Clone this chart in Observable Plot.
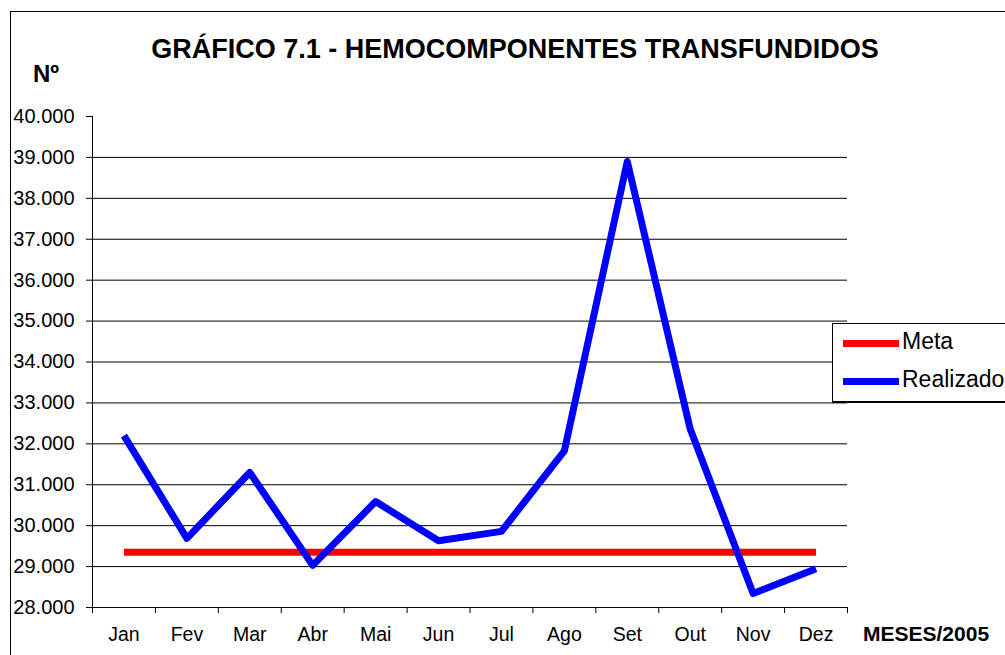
<!DOCTYPE html>
<html><head><meta charset="utf-8">
<script src="https://cdn.jsdelivr.net/npm/d3@7"></script>
<script src="https://cdn.jsdelivr.net/npm/@observablehq/plot@0.6"></script>
<style>
body{margin:0;background:#fff;font-family:"Liberation Sans",Arial,sans-serif;color:#000;}
#wrap{position:relative;width:1005px;height:655px;overflow:hidden;background:#fff;}
#wrap svg{position:absolute;left:0;top:0;}
.border{position:absolute;left:10px;top:11px;width:1100px;height:800px;border:1px solid #000;box-sizing:border-box;}
.t{position:absolute;white-space:nowrap;line-height:1;font-weight:bold;}
#title{left:515px;top:36px;font-size:27px;transform:translateX(-50%);}
#ylab{left:33px;top:62px;font-size:24px;}
#xlab{left:863px;top:623px;font-size:21px;}
#legend{position:absolute;left:832px;top:323px;width:200px;height:80px;border:1px solid #000;border-bottom-width:2px;box-sizing:border-box;background:#fff;}
.li{position:absolute;left:10px;height:30px;}
.sw{position:absolute;left:0;width:56px;height:7px;top:12px;}
.lt{position:absolute;left:59px;top:2px;font-size:23px;line-height:1;white-space:nowrap;}
</style></head><body>
<div id="wrap">
<div class="border"></div>
</div>
<script>
const months = ["Jan","Fev","Mar","Abr","Mai","Jun","Jul","Ago","Set","Out","Nov","Dez"];
const realizado = [32200, 29690, 31300, 29030, 30590, 29630, 29860, 31830, 38900, 32360, 28340, 28950];
const meta = [29350, 29350, 29350, 29350, 29350, 29350, 29350, 29350, 29350, 29350, 29350, 29350];
const yTicks = [28000, 29000, 30000, 31000, 32000, 33000, 34000, 35000, 36000, 37000, 38000, 39000, 40000];
const seriesNames = ["Meta", "Realizado"];
const seriesColors = ["#ff0000", "#0000ff"];

const fmt = v => d3.format(",")(v).replace(/,/g, ".");
const rows = months.map((m, i) => ({i, m, meta: meta[i], real: realizado[i]}));
const idx = months.map((m, i) => i);
const bounds = months.map((m, i) => i - 0.5).concat([months.length - 0.5]);

const chart = Plot.plot({
  width: 1005, height: 655,
  marginLeft: 92, marginRight: 158, marginTop: 116, marginBottom: 48,
  style: {fontFamily: "'Liberation Sans', Arial, sans-serif", fontSize: "19.5px", color: "#000", background: "transparent", overflow: "visible"},
  x: {domain: [-0.5, months.length - 0.5], axis: null, label: null},
  y: {domain: [yTicks[0], yTicks[yTicks.length - 1]], axis: null, label: null},
  marks: [
    Plot.ruleY(yTicks.slice(1, -1), {stroke: "#000", strokeWidth: 1}),
    Plot.ruleY([yTicks[0]], {stroke: "#000", strokeWidth: 1}),
    Plot.ruleX([-0.5], {stroke: "#000", strokeWidth: 1}),
    Plot.axisY({ticks: yTicks, tickFormat: fmt, tickSize: 6, tickPadding: 12, anchor: "left", label: null, fontSize: 20, stroke: "#000", strokeOpacity: 1, fill: "#000"}),
    Plot.axisX({ticks: bounds, tickFormat: () => "", tickSize: 6, anchor: "bottom", label: null, stroke: "#000", strokeOpacity: 1}),
    Plot.axisX({ticks: idx, tickFormat: i => months[i], tickSize: 0, tickPadding: 20, anchor: "bottom", label: null, fill: "#000"}),
    Plot.line(rows, {x: "i", y: "meta", stroke: seriesColors[0], strokeWidth: 7, strokeLinecap: "butt", strokeLinejoin: "round"}),
    Plot.line(rows, {x: "i", y: "real", stroke: seriesColors[1], strokeWidth: 7, strokeLinecap: "butt", strokeLinejoin: "round"})
  ]
});
const wrap = document.getElementById("wrap");
wrap.appendChild(chart);

function addText(id, txt) {
  const d = document.createElement("div");
  d.className = "t"; d.id = id; d.textContent = txt;
  wrap.appendChild(d);
}
addText("title", "GRÁFICO 7.1 - HEMOCOMPONENTES TRANSFUNDIDOS");
addText("ylab", "Nº");
addText("xlab", "MESES/2005");

const lg = document.createElement("div");
lg.id = "legend";
seriesNames.forEach((n, k) => {
  const it = document.createElement("div");
  it.className = "li";
  it.style.top = (4 + k * 38) + "px";
  const sw = document.createElement("div");
  sw.className = "sw"; sw.style.background = seriesColors[k];
  const lt = document.createElement("div");
  lt.className = "lt"; lt.textContent = n;
  it.appendChild(sw); it.appendChild(lt);
  lg.appendChild(it);
});
wrap.appendChild(lg);
</script>
</body></html>
